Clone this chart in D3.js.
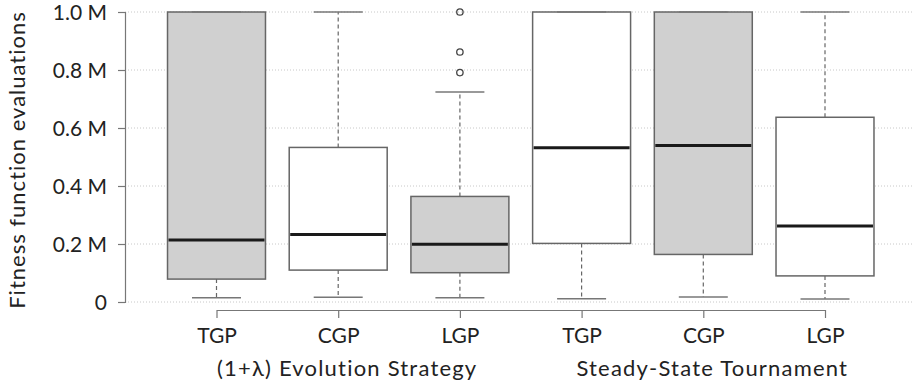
<!DOCTYPE html>
<html>
<head>
<meta charset="utf-8">
<script src="https://cdn.jsdelivr.net/npm/d3@7"></script>
<style>
  body { margin: 0; background: #fff; }
  svg { display: block; font-family: Lato, "Open Sans", sans-serif; }
</style>
</head>
<body>
<svg id="chart" width="914" height="385"></svg>
<script>
// values in millions of fitness evaluations
const groups = ["(1+λ) Evolution Strategy", "Steady-State Tournament"];
const methods = ["TGP", "CGP", "LGP", "TGP", "CGP", "LGP"];
const lowWhisker = [0.015, 0.016, 0.015, 0.011, 0.017, 0.010];
const q1 = [0.079, 0.110, 0.101, 0.202, 0.164, 0.090];
const median = [0.214, 0.233, 0.199, 0.532, 0.540, 0.262];
const q3 = [1.0, 0.533, 0.364, 1.0, 1.0, 0.637];
const highWhisker = [1.0, 1.0, 0.724, 1.0, 1.0, 1.0];
const outliers = [[], [], [1.0, 0.862, 0.791], [], [], []];
const shaded = [true, false, true, false, true, false];
const yTicks = [0, 0.2, 0.4, 0.6, 0.8, 1.0];

const boxes = methods.map((m, i) => ({
  i, m,
  lo: lowWhisker[i], q1: q1[i], med: median[i], q3: q3[i], hi: highWhisker[i],
  out: outliers[i], shaded: shaded[i]
}));

const svg = d3.select("#chart");
const width = 914;

const x = d3.scalePoint()
  .domain(d3.range(methods.length))
  .range([216.5, 825]);

const y = d3.scaleLinear()
  .domain([0, 1])
  .range([302, 12]);

const boxW = x.step() * 0.805;
const capW = boxW * 0.5;
const axisCol = "#777";

// grid
svg.append("g")
  .selectAll("line")
  .data(yTicks)
  .enter()
  .append("line")
  .attr("x1", 125)
  .attr("x2", width)
  .attr("y1", (d) => y(d))
  .attr("y2", (d) => y(d))
  .attr("stroke", "#c8c8c8")
  .attr("stroke-width", 1)
  .attr("stroke-dasharray", "1,2");

// y axis
const yAxis = svg.append("g")
  .attr("transform", "translate(125,0)")
  .call(d3.axisLeft(y)
    .tickValues(yTicks)
    .tickSize(7)
    .tickSizeOuter(7)
    .tickPadding(11)
    .tickFormat((d) => (d === 0 ? "0" : d3.format(".1f")(d) + " M")));
yAxis.selectAll("path, line").attr("stroke", axisCol).attr("stroke-width", 1.2);
yAxis.selectAll("text").attr("font-size", 21).attr("fill", "#222")
  .attr("font-family", "Lato, sans-serif")
  .attr("dy", "0.34em");

svg.append("text")
  .attr("transform", "translate(25,160) rotate(-90)")
  .attr("text-anchor", "middle")
  .attr("font-size", 22)
  .attr("letter-spacing", 1)
  .attr("fill", "#222")
  .text("Fitness function evaluations");

// x axis
const xAxis = svg.append("g")
  .attr("transform", "translate(0,310)")
  .call(d3.axisBottom(x)
    .tickSize(8)
    .tickSizeOuter(0)
    .tickPadding(10)
    .tickFormat((i) => methods[i]));
xAxis.selectAll("path, line").attr("stroke", axisCol).attr("stroke-width", 1.2);
xAxis.selectAll("text").attr("font-size", 21).attr("fill", "#222")
  .attr("font-family", "Lato, sans-serif");

svg.append("g")
  .selectAll("text")
  .data(groups)
  .enter()
  .append("text")
  .attr("x", (d, gi) => x(gi * 3 + 1) + 9)
  .attr("y", 376)
  .attr("text-anchor", "middle")
  .attr("font-size", 22)
  .attr("letter-spacing", 1.2)
  .attr("fill", "#222")
  .text((d) => d);

// boxes
const g = svg.append("g")
  .selectAll("g")
  .data(boxes)
  .enter()
  .append("g");

// whiskers
g.append("line")
  .attr("x1", (d) => x(d.i))
  .attr("x2", (d) => x(d.i))
  .attr("y1", (d) => y(d.q3))
  .attr("y2", (d) => y(d.hi))
  .attr("stroke", "#666")
  .attr("stroke-width", 1.2)
  .attr("stroke-dasharray", "4,3");

g.append("line")
  .attr("x1", (d) => x(d.i))
  .attr("x2", (d) => x(d.i))
  .attr("y1", (d) => y(d.q1))
  .attr("y2", (d) => y(d.lo))
  .attr("stroke", "#666")
  .attr("stroke-width", 1.2)
  .attr("stroke-dasharray", "4,3");

g.append("rect")
  .attr("x", (d) => x(d.i) - boxW / 2)
  .attr("y", (d) => y(d.q3))
  .attr("width", boxW)
  .attr("height", (d) => y(d.q1) - y(d.q3))
  .attr("fill", (d) => (d.shaded ? "#d0d0d0" : "#fff"))
  .attr("stroke", "#666")
  .attr("stroke-width", 1.5);

// caps
["lo", "hi"].forEach((k) => {
  g.append("line")
    .attr("x1", (d) => x(d.i) - capW / 2)
    .attr("x2", (d) => x(d.i) + capW / 2)
    .attr("y1", (d) => y(d[k]))
    .attr("y2", (d) => y(d[k]))
    .attr("stroke", "#777")
    .attr("stroke-width", 1.5);
});

g.append("line")
  .attr("x1", (d) => x(d.i) - boxW / 2 + 1)
  .attr("x2", (d) => x(d.i) + boxW / 2 - 1)
  .attr("y1", (d) => y(d.med))
  .attr("y2", (d) => y(d.med))
  .attr("stroke", "#1a1a1a")
  .attr("stroke-width", 3);

g.selectAll("circle")
  .data((d) => d.out.map((v) => ({ i: d.i, v })))
  .enter()
  .append("circle")
  .attr("cx", (d) => x(d.i))
  .attr("cy", (d) => y(d.v))
  .attr("r", 3.2)
  .attr("fill", "none")
  .attr("stroke", "#444")
  .attr("stroke-width", 1.3);
</script>
</body>
</html>
